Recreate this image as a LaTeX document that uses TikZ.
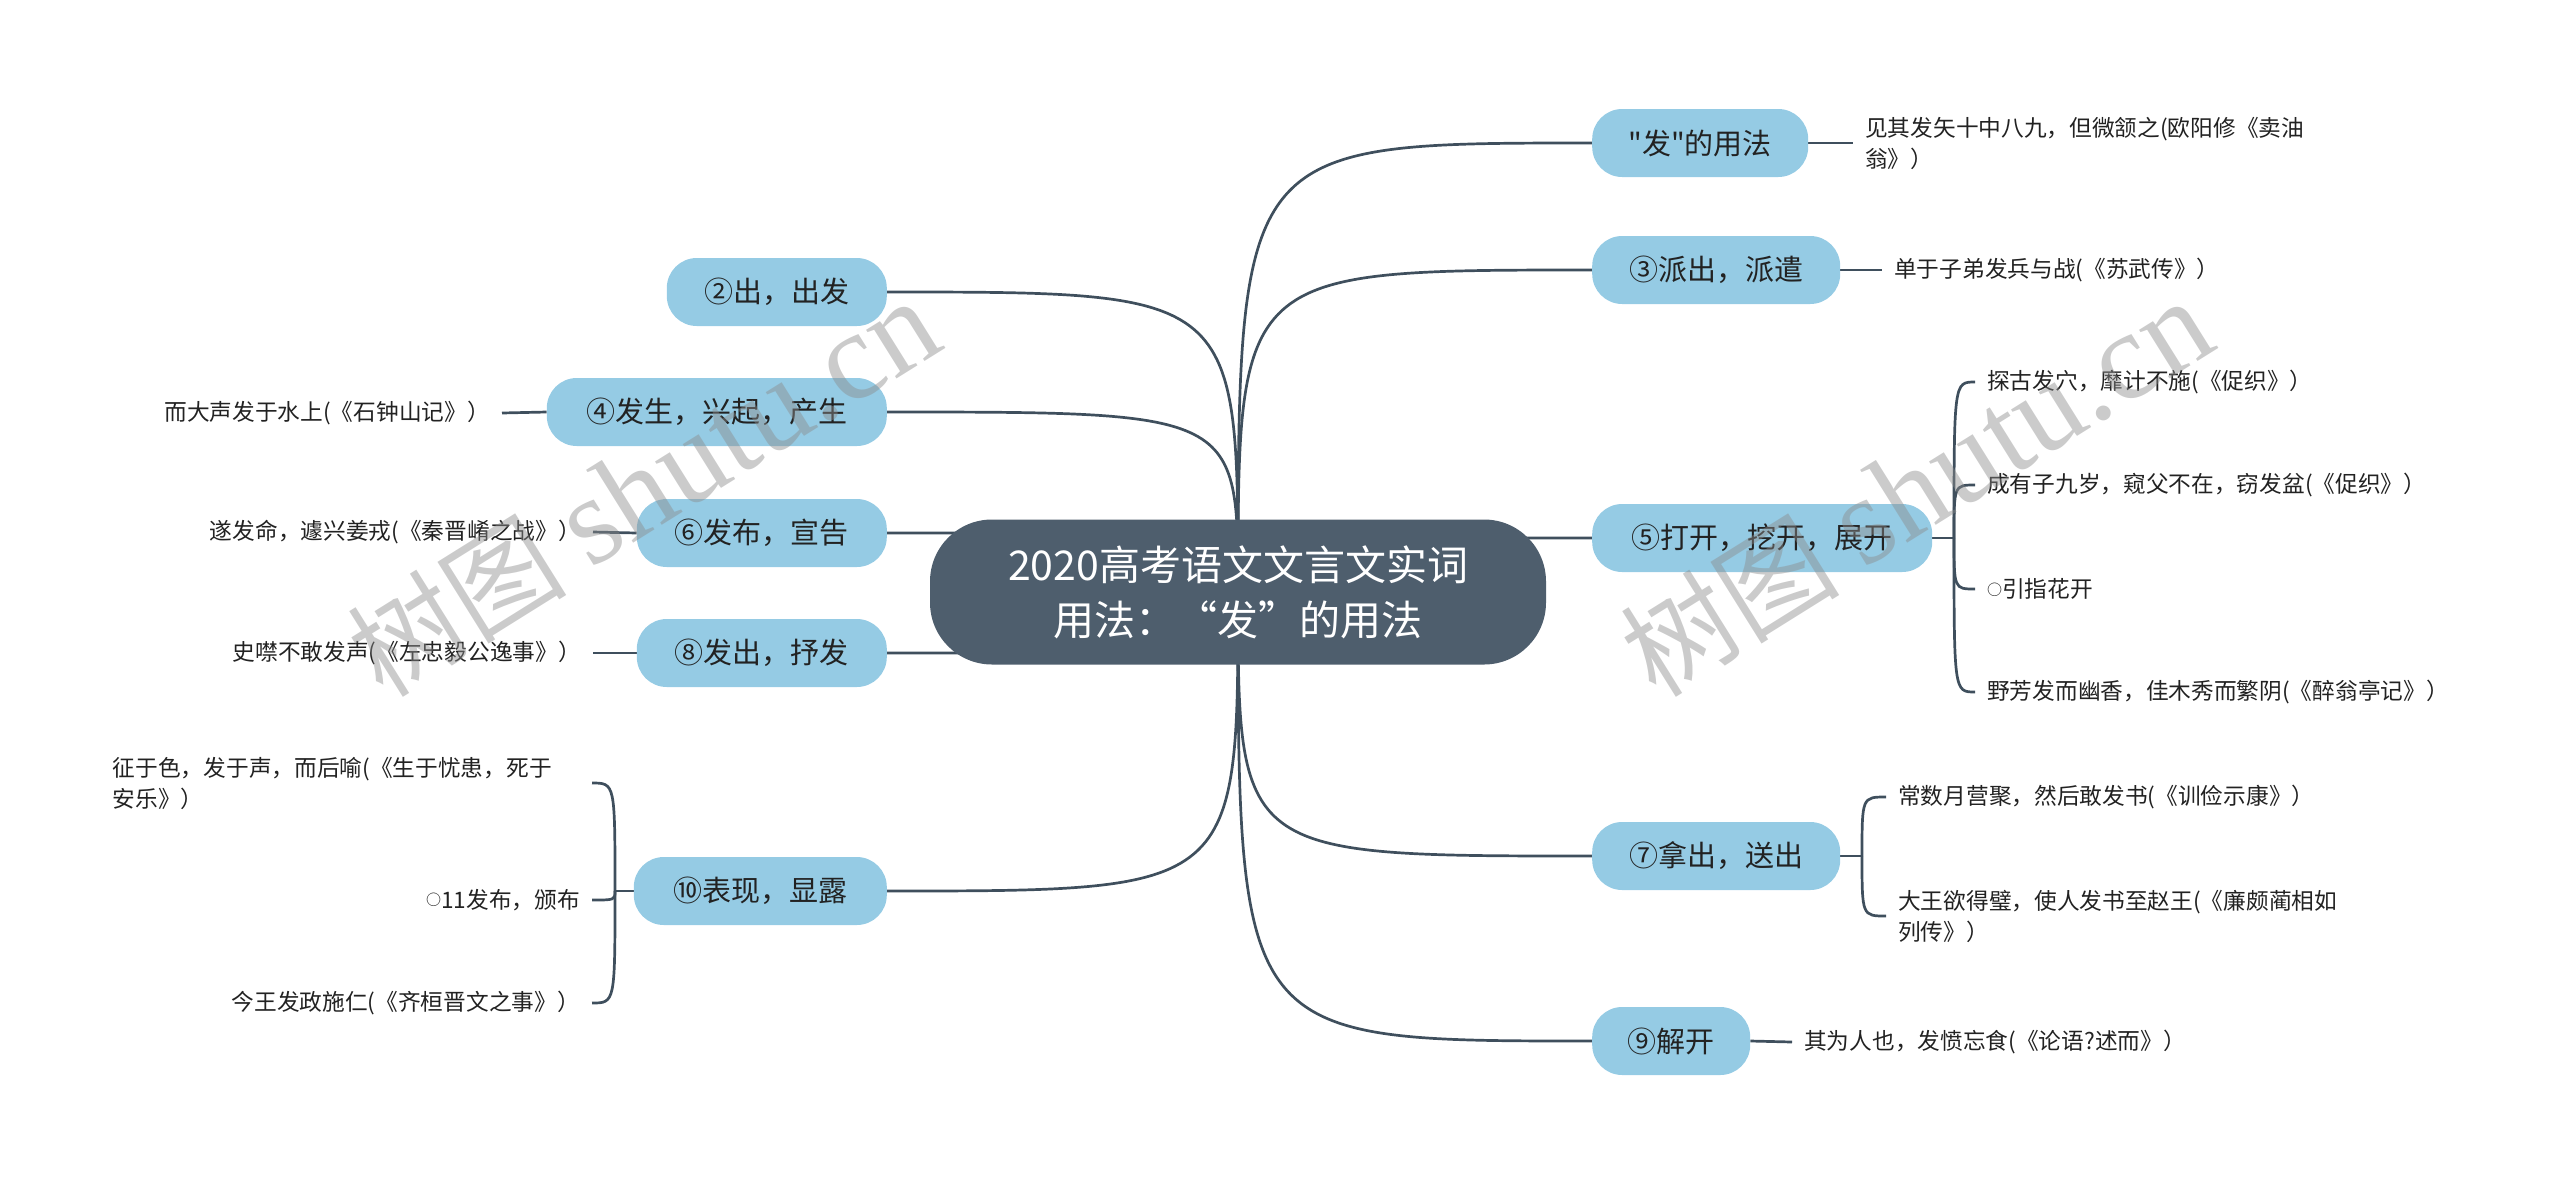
\documentclass[tikz,border=0pt]{standalone}
\usepackage{fontspec}
\setmainfont{Noto Sans CJK SC}[Ligatures=TeXOff]
\newfontfamily\quotefont[RawFeature=+fwid]{Noto Sans CJK SC}
\newfontfamily\markfont{Liberation Serif}
\usetikzlibrary{backgrounds}
\definecolor{Slate}{HTML}{4E5E6D}
\definecolor{Wire}{HTML}{3F4F5D}
\definecolor{Sky}{HTML}{95CBE4}
\definecolor{Ink}{HTML}{222222}
\newcommand\ring{\raisebox{2.5pt}{\fontsize{15}{15}\selectfont ○}}

\begin{document}
\begin{tikzpicture}[x=1pt,y=-1pt,
    topic/.style={fill=Sky,text=Ink,rounded corners=30pt,minimum height=68pt,inner sep=0pt,font=\fontsize{29}{35}\selectfont},
    leaf/.style={text=Ink,inner xsep=12pt,inner ysep=2pt,align=left,font=\fontsize{22.7}{31}\selectfont},
    link/.style={draw=Wire,line width=2.7pt},
    wmark/.style={text=black!45,opacity=.45,rotate=32,font=\fontsize{110}{110}\selectfont}]
  \useasboundingbox (0,0) rectangle (2560,1179);
  \node[fill=Slate,text=white,rounded corners=62pt,minimum width=616pt,minimum height=145pt,align=center,font=\fontsize{41}{55}\selectfont] (root) at (1238,592) {2020高考语文文言文实词\\用法：{\quotefont“}发{\quotefont”}的用法};
  % topics
  \foreach \y/\w/\name/\txt in {143/216/n1/"发"的用法,270/248/n3/③派出，派遣,538/340/n5/⑤打开，挖开，展开,856/248/n7/⑦拿出，送出,1041/158/n9/⑨解开}
    \node[topic,minimum width=\w pt,anchor=west] (\name) at (1592,\y) {\txt};
  \foreach \y/\w/\name/\txt in {292/220/n2/②出，出发,412/340/n4/④发生，兴起，产生,533/250/n6/⑥发布，宣告,653/250/n8/⑧发出，抒发,891/253/n10/⑩表现，显露}
    \node[topic,minimum width=\w pt,anchor=east] (\name) at (887,\y) {\txt};
  % leaves
  \foreach \x/\y/\name/\txt in {1853/143/a1/{见其发矢十中八九，但微颔之(欧阳修《卖油\\翁》）},1882/270/a3/单于子弟发兵与战(《苏武传》）,
      1975/382/a5/探古发穴，靡计不施(《促织》）,1975/485/b5/成有子九岁，窥父不在，窃发盆(《促织》）,1975/589/c5/\ring 引指花开,1975/692/d5/野芳发而幽香，佳木秀而繁阴(《醉翁亭记》）,
      1886/797/a7/常数月营聚，然后敢发书(《训俭示康》）,1886/916/b7/{大王欲得璧，使人发书至赵王(《廉颇蔺相如\\列传》）},1792/1042/a9/其为人也，发愤忘食(《论语?述而》）}
    \node[leaf,anchor=west] (\name) at (\x,\y) {\txt};
  \foreach \x/\y/\name/\txt in {502/413/a4/而大声发于水上(《石钟山记》）,593/532/a6/遂发命，遽兴姜戎(《秦晋崤之战》）,593/653/a8/史噤不敢发声(《左忠毅公逸事》）,
      592/900/b10/\ring 11发布，颁布,592/1003/c10/今王发政施仁(《齐桓晋文之事》）}
    \node[leaf,anchor=east] (\name) at (\x,\y) {\txt};
  \node[leaf,anchor=east,text width=467pt] (a10) at (592,783) {征于色，发于声，而后喻(《生于忧患，死于\\安乐》）};
  \coordinate (j5) at (1954,538);
  \coordinate (j7) at (1862,856);
  \coordinate (j10) at (615,891);
  \begin{scope}[on background layer]
    \foreach \name in {n1,n3,n5,n7,n9}
      \draw[link] (root.center) .. controls (root.center |- \name.west) .. (\name.west);
    \foreach \name in {n2,n4,n6,n8,n10}
      \draw[link] (root.center) .. controls (root.center |- \name.east) .. (\name.east);
    \foreach \a/\b in {n1/a1,n3/a3,n9/a9}
      \draw[link] (\a.east) -- (\b.west);
    \foreach \a/\b in {n4/a4,n6/a6,n8/a8}
      \draw[link] (\a.west) -- (\b.east);
    \draw[link] (n5.east) -- (j5);
    \draw[link] (n7.east) -- (j7);
    \draw[link] (n10.west) -- (j10);
    \foreach \j/\b in {j5/a5,j5/b5,j5/c5,j5/d5,j7/a7,j7/b7}
      \draw[link] (\j) .. controls (\j |- \b.west) and (\j |- \b.west) .. (\b.west);
    \foreach \b in {a10,b10,c10}
      \draw[link] (j10) .. controls (j10 |- \b.east) and (j10 |- \b.east) .. (\b.east);
  \end{scope}
  % watermark
  \foreach \x/\name in {643/wmL,1916/wmR}
    \node[wmark] (\name) at (\x,488) {树图 {\markfont\fontsize{125}{125}\selectfont shutu.cn}};
\end{tikzpicture}
\end{document}
